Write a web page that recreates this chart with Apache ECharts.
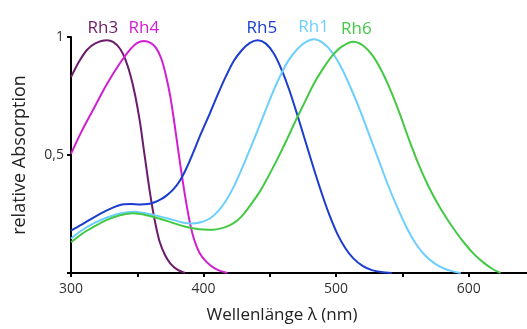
<!DOCTYPE html>
<html>
<head>
<meta charset="utf-8">
<script src="https://cdn.jsdelivr.net/npm/echarts@6/dist/echarts.min.js"></script>
<style>
  html, body { margin: 0; padding: 0; background: #fff; }
  #chart { width: 527px; height: 329px; }
</style>
</head>
<body>
<div id="chart"></div>
<script>
// Absorption spectra of the Drosophila rhodopsins (relative, normalised)
const seriesNames = ['Rh3', 'Rh4', 'Rh5', 'Rh1', 'Rh6'];
const seriesColors = ['#6b1b6b', '#d21ed2', '#1a3ccf', '#6dcfff', '#44c944'];

const rh3Nm  = [300, 306, 312, 318, 327, 332, 337, 341, 345, 348.5, 352, 355, 358, 361, 364, 367, 371, 375, 380, 386];
const rh3Abs = [0.83, 0.895, 0.945, 0.972, 0.986, 0.978, 0.95, 0.905, 0.835, 0.75, 0.64, 0.52, 0.40, 0.29, 0.20, 0.13, 0.075, 0.04, 0.015, 0];

const rh4Nm  = [300, 308, 317, 327, 337, 345, 350, 355, 360, 364, 368, 371.5, 375, 378, 381, 384, 387, 390, 393, 397, 402, 407, 412, 418];
const rh4Abs = [0.505, 0.60, 0.695, 0.80, 0.89, 0.95, 0.975, 0.983, 0.975, 0.955, 0.91, 0.84, 0.745, 0.635, 0.515, 0.40, 0.295, 0.205, 0.14, 0.085, 0.048, 0.025, 0.01, 0];

const rh5Nm  = [300, 308, 317, 327, 337, 345, 352, 358, 363, 368, 372, 377, 382, 387, 392, 397, 405, 411, 417, 423, 429, 435, 441, 447, 453, 459, 465, 471, 477, 483, 489, 495, 501, 507, 513, 520, 527, 534, 542];
const rh5Abs = [0.18, 0.205, 0.235, 0.265, 0.288, 0.292, 0.29, 0.292, 0.30, 0.313, 0.328, 0.353, 0.39, 0.443, 0.508, 0.577, 0.68, 0.76, 0.835, 0.90, 0.945, 0.975, 0.986, 0.972, 0.93, 0.86, 0.77, 0.665, 0.555, 0.445, 0.34, 0.245, 0.165, 0.105, 0.062, 0.03, 0.012, 0.004, 0];

const rh1Nm  = [300, 308, 317, 327, 337, 347, 357, 367, 377, 385, 391, 398, 405, 411, 417, 423, 429, 436, 443, 450, 457, 464, 471, 477, 483, 490, 497, 504, 511, 518, 525, 532, 539, 546, 553, 560, 567, 574, 581, 588, 594];
const rh1Abs = [0.146, 0.18, 0.21, 0.235, 0.252, 0.26, 0.252, 0.24, 0.225, 0.213, 0.21, 0.215, 0.232, 0.262, 0.307, 0.368, 0.443, 0.538, 0.635, 0.735, 0.825, 0.90, 0.95, 0.978, 0.99, 0.975, 0.935, 0.87, 0.785, 0.69, 0.585, 0.48, 0.375, 0.28, 0.195, 0.125, 0.075, 0.042, 0.02, 0.007, 0];

const rh6Nm  = [300, 308, 317, 327, 337, 347, 357, 367, 377, 385, 392, 400, 407, 414, 420, 425, 431, 437, 443, 448, 455, 462, 469, 476, 483, 490, 497, 504, 513, 520, 527, 534, 541, 548, 555, 562, 569, 576, 583, 590, 597, 604, 611, 618, 624];
const rh6Abs = [0.13, 0.165, 0.195, 0.225, 0.245, 0.253, 0.245, 0.23, 0.212, 0.198, 0.19, 0.184, 0.183, 0.19, 0.203, 0.22, 0.255, 0.30, 0.35, 0.40, 0.475, 0.555, 0.64, 0.72, 0.80, 0.865, 0.92, 0.958, 0.98, 0.965, 0.925, 0.86, 0.775, 0.675, 0.565, 0.463, 0.375, 0.30, 0.235, 0.177, 0.125, 0.08, 0.045, 0.017, 0];

const xTicks = [300, 400, 500, 600];
const yTicks = [0.5, 1];

const spectra = [
  [rh3Nm, rh3Abs],
  [rh4Nm, rh4Abs],
  [rh5Nm, rh5Abs],
  [rh1Nm, rh1Abs],
  [rh6Nm, rh6Abs]
];

// small horizontal nudges of the name labels (px)
const labelNudge = [-4, 0, 4, 0, 3];

const fontFamily = '"Open Sans", "DejaVu Sans", sans-serif';

// Each curve carries its opsin name just above its absorption maximum
function buildSeries(name, color, nm, abs, nudge) {
  let peak = 0;
  abs.forEach((v, i) => { if (v > abs[peak]) peak = i; });
  return {
    name: name,
    type: 'line',
    data: nm.map((x, i) => [x, abs[i]]),
    smooth: 0.3,
    showSymbol: false,
    symbol: 'none',
    clip: false,
    lineStyle: { color: color, width: 2 },
    itemStyle: { color: color },
    markPoint: {
      symbol: 'circle',
      symbolSize: 0,
      silent: true,
      data: [{
        coord: [nm[peak], abs[peak]],
        label: {
          show: true,
          position: 'top',
          distance: 4,
          offset: [nudge, 0],
          formatter: name,
          color: color,
          fontSize: 17,
          fontFamily: fontFamily
        }
      }]
    },
    z: 3
  };
}

const chart = echarts.init(document.getElementById('chart'), null, { renderer: 'canvas' });

chart.setOption({
  animation: false,
  backgroundColor: '#ffffff',
  grid: { left: 71, right: 0, top: 37, bottom: 52, containLabel: false },
  xAxis: {
    type: 'value',
    min: 300,
    max: 644,
    interval: 50,
    name: 'Wellenlänge λ (nm)',
    nameLocation: 'middle',
    nameGap: 34,
    nameTextStyle: { fontSize: 17, color: '#222', fontFamily: fontFamily, padding: [0, 34, 0, 0] },
    axisLine: { show: true, lineStyle: { color: '#000', width: 2 } },
    axisTick: { show: true, inside: false, length: 4, lineStyle: { color: '#000', width: 2 } },
    axisLabel: {
      fontSize: 14,
      color: '#333',
      fontFamily: fontFamily,
      margin: 9,
      showMaxLabel: false,
      formatter: v => (xTicks.indexOf(v) >= 0 ? String(v) : '')
    },
    splitLine: { show: false }
  },
  yAxis: {
    type: 'value',
    min: 0,
    max: 1,
    interval: 0.5,
    name: 'relative Absorption',
    nameLocation: 'middle',
    nameRotate: 90,
    nameGap: 42,
    nameTextStyle: { fontSize: 18, color: '#222', fontFamily: fontFamily },
    axisLine: { show: true, lineStyle: { color: '#000', width: 2 } },
    axisTick: { show: true, inside: false, length: 4, lineStyle: { color: '#000', width: 2 } },
    axisLabel: {
      fontSize: 14,
      color: '#333',
      fontFamily: fontFamily,
      margin: 7,
      formatter: v => (yTicks.indexOf(v) >= 0 ? String(v).replace('.', ',') : '')
    },
    splitLine: { show: false }
  },
  series: seriesNames.map((n, i) => buildSeries(n, seriesColors[i], spectra[i][0], spectra[i][1], labelNudge[i]))
});
</script>
</body>
</html>
